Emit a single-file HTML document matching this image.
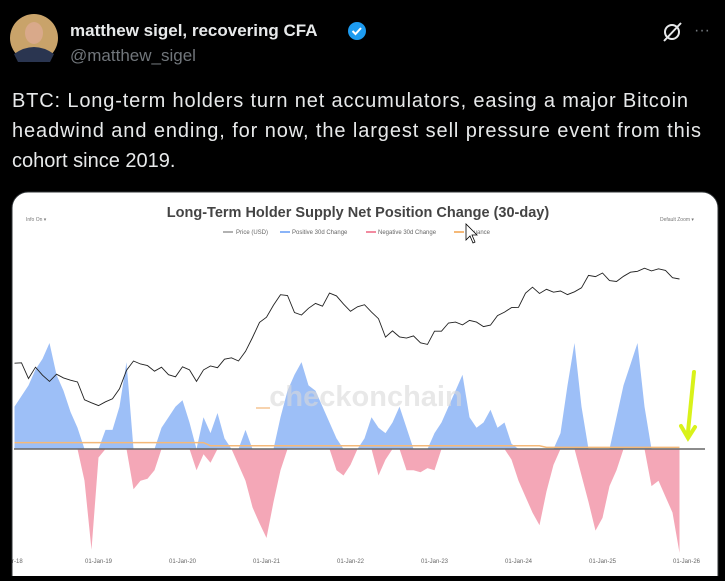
<!DOCTYPE html>
<html><head><meta charset="utf-8"><style>
body{margin:0;background:#000;width:725px;height:576px;overflow:hidden;font-family:"Liberation Sans",sans-serif}
</style></head><body>
<svg id="root" width="725" height="576" viewBox="0 0 725 576" xmlns="http://www.w3.org/2000/svg" style="font-family:'Liberation Sans',sans-serif">
<rect width="725" height="576" fill="#000"/>
<g>
<circle cx="34" cy="38" r="24" fill="#c9a36a"/>
<ellipse cx="34" cy="33" rx="9" ry="11" fill="#d9a98a"/>
<path d="M14 54 Q34 40 54 54 L50 62 L18 62Z" fill="#2a3550"/>
</g>
<text x="70" y="36" fill="#e7e9ea" font-size="17" font-weight="bold">matthew sigel, recovering CFA</text>
<g><circle cx="357" cy="31" r="9" fill="#1d9bf0"/><path d="M352.5 31 l3 3 l5.5 -6" stroke="#fff" stroke-width="2" fill="none"/></g>
<text x="70" y="61" fill="#71767b" font-size="17">@matthew_sigel</text>
<g><circle cx="672" cy="32" r="7" fill="none" stroke="#e7e9ea" stroke-width="2"/><line x1="664" y1="41" x2="681" y2="23" stroke="#e7e9ea" stroke-width="2"/></g>
<text x="694" y="35" fill="#71767b" font-size="16">···</text>
<g fill="#e7e9ea" font-size="20">
<text x="12" y="107" textLength="676">BTC: Long-term holders turn net accumulators, easing a major Bitcoin</text>
<text x="12" y="137" textLength="689">headwind and ending, for now, the largest sell pressure event from this</text>
<text x="12" y="167">cohort since 2019.</text>
</g>
<rect x="12" y="192" width="706" height="400" rx="16" fill="#fff" stroke="#2f3336"/>
<text x="358" y="217" text-anchor="middle" font-size="14.5" font-weight="bold" fill="#444">Long-Term Holder Supply Net Position Change (30-day)</text>
<text x="26" y="221" font-size="5" fill="#777">Info On  ▾</text>
<text x="660" y="221" font-size="5" fill="#777">Default Zoom  ▾</text>
<g font-size="6" fill="#666">
<line x1="223" y1="232" x2="233" y2="232" stroke="#999" stroke-width="1.5"/><text x="236" y="234">Price (USD)</text>
<line x1="280" y1="232" x2="290" y2="232" stroke="#8ab4f8" stroke-width="2"/><text x="292" y="234">Positive 30d Change</text>
<line x1="366" y1="232" x2="376" y2="232" stroke="#f28ba0" stroke-width="2"/><text x="378" y="234">Negative 30d Change</text>
<line x1="454" y1="232" x2="464" y2="232" stroke="#f5b978" stroke-width="2"/><text x="466" y="234">Issuance</text>
</g>
<g id="plot"></g>
<text x="366" y="406" text-anchor="middle" font-size="29" font-weight="bold" fill="#d8d8d8" fill-opacity="0.6">checkonchain</text>
<line x1="256" y1="408" x2="270" y2="408" stroke="#f7d3ae" stroke-width="2"/>
<g stroke="#d9f21a" stroke-width="4" fill="none" stroke-linecap="round"><line x1="694" y1="372" x2="688" y2="432"/><path d="M681 426 L688 438 L695 427"/></g>
<path d="M466 224 L466 240 L470 236 L473 243 L475 242 L472 235 L477 235 Z" fill="#fff" stroke="#000" stroke-width="0.8"/>
</svg>
<script>
const startYear = 2018;
const tickLabels = ["01-Jan-19","01-Jan-20","01-Jan-21","01-Jan-22","01-Jan-23","01-Jan-24","01-Jan-25","01-Jan-26"];
const price = [10200,10300,6900,9200,7500,6400,7700,7000,6600,6300,4000,3700,
3450,3800,4100,5300,8500,10800,10000,9600,8300,9200,7600,7200,
9300,8600,6400,8600,9500,9100,11300,11700,10800,13800,19700,29000,
33100,45100,58800,57700,37300,35000,41500,47100,43800,61300,57000,46300,
38500,43200,45500,37700,31800,19900,23300,20000,19400,20500,17200,16500,
23100,23100,28500,29200,27200,30500,29200,26000,27000,34500,37700,42300,
42600,61100,71300,60600,67500,62700,64600,59000,63300,70200,96400,93400,
102400,84300,82500,94200,104600,107100,115800,108200,114000,109500,91000,88000];
const positive = [40,50,60,75,85,100,70,55,35,20,0,0,
0,18,18,40,82,0,0,0,0,20,30,40,
46,25,0,30,15,34,10,0,0,18,0,0,
0,0,30,55,70,82,60,55,40,25,10,0,
0,0,10,30,20,15,25,40,20,0,0,0,
15,25,40,55,70,30,20,25,37,20,25,5,
0,0,0,0,0,0,15,60,100,40,0,0,
0,0,30,60,80,100,40,0,0,0,0,0];
const negative = [0,0,0,0,0,0,0,0,0,0,-30,-95,
-8,0,0,0,0,-38,-30,-28,-20,0,0,0,
0,0,-20,-5,-13,0,0,0,-15,-30,-55,-70,
-84,-50,-20,0,0,0,0,0,0,0,-20,-25,
-15,0,0,0,-25,-10,0,0,-20,-20,-22,-18,
-20,0,0,0,0,0,0,0,0,0,0,-10,
-30,-45,-60,-72,-40,-15,0,0,0,-25,-50,-77,
-65,-35,-20,0,0,0,0,-35,-30,-45,-60,-98];
const issuance = [6,6,6,6,6,6,6,6,6,6,6,6,6,6,6,6,6,6,6,6,6,6,6,6,
6,6,6,6,3,3,3,3,3,3,3,3,3,3,3,3,3,3,3,3,3,3,3,3,3,3,3,3,3,3,3,3,3,3,3,3,
3,3,3,3,3,3,3,3,3,3,3,3,3,3,3,3,1.5,1.5,1.5,1.5,1.5,1.5,1.5,1.5,1.5,1.5,1.5,1.5,1.5,1.5,1.5,1.5,1.5,1.5,1.5,1.5];
const NS="http://www.w3.org/2000/svg";
const plot=document.getElementById('plot');
const x0=14.5, pxPerMonth=7.0, zeroY=449, pxPerUnit=1.06;
function xScale(i){return x0+i*pxPerMonth;}
function yVal(v){return zeroY-v*pxPerUnit;}
function yPrice(p){return 405-(Math.log10(p)-Math.log10(3500))*90;}
function area(arr,color,name){
  let d='M'+xScale(0)+' '+zeroY;
  arr.forEach((v,i)=>{d+=' L'+xScale(i).toFixed(1)+' '+yVal(v).toFixed(1);});
  d+=' L'+xScale(arr.length-1)+' '+zeroY+' Z';
  const p=document.createElementNS(NS,'path');
  p.setAttribute('d',d);p.setAttribute('fill',color);
  
  
  plot.appendChild(p);
}
area(positive,'#9dbff7','positive-change-area');
area(negative,'#f4a7b7','negative-change-area');
function line(arr,fn,color,w,name){
  const p=document.createElementNS(NS,'polyline');
  p.setAttribute('points',arr.map((v,i)=>xScale(i).toFixed(1)+','+fn(v).toFixed(1)).join(' '));
  p.setAttribute('fill','none');p.setAttribute('stroke',color);p.setAttribute('stroke-width',w);
  
  
  plot.appendChild(p);
}
line(issuance,yVal,'#f5b978',1.5,'issuance-line');
const zl=document.createElementNS(NS,'line');
zl.setAttribute('x1',14);zl.setAttribute('x2',705);zl.setAttribute('y1',zeroY);zl.setAttribute('y2',zeroY);
zl.setAttribute('stroke','#666');zl.setAttribute('stroke-width',1.5);


plot.appendChild(zl);
line(price,yPrice,'#222',0.9,'price-line');
tickLabels.forEach((t,i)=>{
  const tx=document.createElementNS(NS,'text');
  tx.setAttribute('x',xScale(12*(i+1)));tx.setAttribute('y',563);
  tx.setAttribute('text-anchor','middle');tx.setAttribute('font-size','6');tx.setAttribute('fill','#666');
  tx.textContent=t;
  
  
  plot.appendChild(tx);
});
const first=document.createElementNS(NS,'text');
first.setAttribute('x',12);first.setAttribute('y',563);first.setAttribute('font-size','6');first.setAttribute('fill','#666');
first.textContent='r-18';


plot.appendChild(first);
</script>
</body></html>
